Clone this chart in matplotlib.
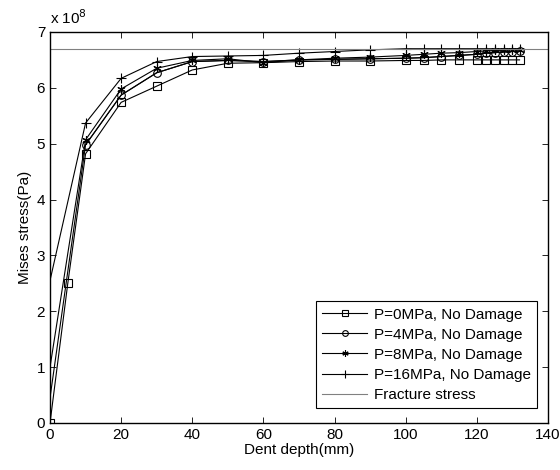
import matplotlib
matplotlib.use('Agg')
import matplotlib.pyplot as plt

plt.rcParams['font.family'] = ['Liberation Sans', 'DejaVu Sans']

## dent depth (mm)
depth_p0 = [0, 5, 10, 20, 30, 40, 50, 60, 70, 80, 90, 100, 105, 110, 115, 120, 122.5, 125, 127.5, 130, 132]
depth = [0, 10, 20, 30, 40, 50, 60, 70, 80, 90, 100, 105, 110, 115, 120, 122.5, 125, 127.5, 130, 132]

## Mises stress (x 1e8 Pa)
stress_p0 = [0, 2.5, 4.82, 5.74, 6.03, 6.32, 6.44, 6.45, 6.47, 6.48, 6.48, 6.49, 6.49, 6.50,
             6.50, 6.50, 6.50, 6.50, 6.50, 6.50, 6.50]
stress_p4 = [0.45, 4.98, 5.87, 6.27, 6.47, 6.49, 6.47, 6.50, 6.51, 6.52, 6.53, 6.54, 6.56,
             6.58, 6.60, 6.62, 6.63, 6.64, 6.65, 6.66]
stress_p8 = [1.0, 5.07, 5.98, 6.35, 6.49, 6.52, 6.45, 6.50, 6.53, 6.55, 6.58, 6.60, 6.62,
             6.63, 6.65, 6.66, 6.67, 6.67, 6.68, 6.68]
stress_p16 = [2.55, 5.37, 6.17, 6.47, 6.56, 6.57, 6.58, 6.62, 6.65, 6.68, 6.70, 6.70, 6.70,
              6.70, 6.70, 6.70, 6.70, 6.70, 6.70, 6.70]
fracture_stress = 6.7

labels = ['P=0MPa, No Damage', 'P=4MPa, No Damage', 'P=8MPa, No Damage',
          'P=16MPa, No Damage', 'Fracture stress']

fig = plt.figure(figsize=(5.6, 4.7), dpi=100)
ax = fig.add_axes([0.0893, 0.1, 0.8893, 0.832])

ax.plot(depth_p0, stress_p0, color='black', lw=0.8, marker='s', ms=5.5,
        mfc='none', mew=0.8, label=labels[0])
ax.plot(depth[1:], stress_p4[1:], color='black', lw=0.8, marker='o', ms=5.5,
        mfc='none', mew=0.8, label=labels[1])
ax.plot(depth, stress_p4, color='black', lw=0.8)
ax.plot(depth, stress_p8, color='black', lw=0.8, marker=(6, 2, 0), ms=6,
        mew=0.8, markevery=list(range(1, len(depth))), label=labels[2])
ax.plot(depth, stress_p16, color='black', lw=0.8, marker='+', ms=7,
        mew=0.8, markevery=list(range(1, len(depth))), label=labels[3])
ax.axhline(fracture_stress, color='#808080', lw=0.8, label=labels[4])

ax.set_xlim(0, 140)
ax.set_ylim(0, 7)
ax.set_xticks(range(0, 141, 20))
ax.set_yticks(range(0, 8))
ax.tick_params(direction='in', top=True, right=True, labelsize=11, length=4, width=0.6)
for s in ax.spines.values():
    s.set_linewidth(1.0)

ax.set_xlabel('Dent depth(mm)', fontsize=11, labelpad=1)
ax.set_ylabel('Mises stress(Pa)', fontsize=11, labelpad=3)
ax.text(0.0, 1.012, 'x 10$^{8}$', transform=ax.transAxes, fontsize=11, va='bottom')

leg = ax.legend(loc='lower right', bbox_to_anchor=(0.978, 0.038), fontsize=11,
                handlelength=2.95, fancybox=False, framealpha=1, edgecolor='black',
                borderpad=0.4, labelspacing=0.4, handletextpad=0.45, borderaxespad=0,
                markerscale=0.75)
leg.get_frame().set_linewidth(0.8)

plt.savefig('out.png', dpi=100)
